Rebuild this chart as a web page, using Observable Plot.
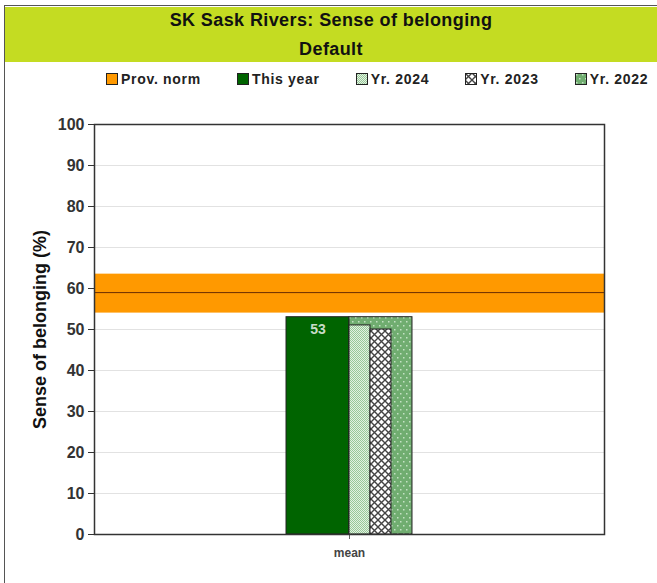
<!DOCTYPE html>
<html>
<head>
<meta charset="utf-8">
<script src="https://cdn.jsdelivr.net/npm/d3@7"></script>
<script src="https://cdn.jsdelivr.net/npm/@observablehq/plot@0.6"></script>
<style>
  body { margin: 0; background: #fff; font-family: "Liberation Sans", Arial, sans-serif; }
  #page { position: relative; width: 657px; height: 583px; overflow: hidden; }
  #box { position: absolute; left: 4px; top: 5px; width: 720px; height: 720px; border: 1.5px solid #555; box-sizing: border-box; }
  #header { position: absolute; left: 5px; top: 7px; width: 652px; height: 55px; background: #c4dc22; }
  .t { position: absolute; left: 0; width: 100%; text-align: center; font-weight: bold; font-size: 18px; letter-spacing: 0.4px; color: #111; line-height: 20px; }
  #legend { position: absolute; left: 106px; top: 70px; width: max-content; white-space: nowrap; display: flex; gap: 36px; font-weight: bold; font-size: 14px; letter-spacing: 0.7px; color: #222; line-height: 18px; }
  .item { display: flex; align-items: center; flex: none; }
  .item svg { margin-right: 3px; flex: none; }
  #chart { position: absolute; left: 0; top: 100px; }
  #defs { position: absolute; width: 0; height: 0; }
</style>
</head>
<body>
<svg id="defs" aria-hidden="true">
  <defs>
    <pattern id="p2024" width="2" height="2" patternUnits="userSpaceOnUse">
      <rect width="2" height="2" fill="#e2f1e2"></rect>
      <rect x="0" y="0" width="1" height="1" fill="#98c898"></rect>
      <rect x="1" y="1" width="1" height="1" fill="#98c898"></rect>
    </pattern>
    <pattern id="p2023" width="7" height="7" patternUnits="userSpaceOnUse">
      <rect width="7" height="7" fill="#fff"></rect>
      <path d="M0,0L7,7M7,0L0,7" stroke="#444" stroke-width="1.4"></path>
    </pattern>
    <pattern id="p2022" width="6" height="8" patternUnits="userSpaceOnUse">
      <rect width="6" height="8" fill="#70ad70"></rect>
      <rect x="1" y="1" width="1.5" height="1.5" fill="#c4e2c4"></rect>
      <rect x="4" y="5" width="1.5" height="1.5" fill="#c4e2c4"></rect>
    </pattern>
  </defs>
</svg>
<div id="page">
  <div id="box"></div>
  <div id="header">
    <div class="t" id="title" style="top:3px"></div>
    <div class="t" id="subtitle" style="top:32px"></div>
  </div>
  <div id="legend"></div>
  <div id="chart"></div>
</div>
<script>
// Chart text
const title = "SK Sask Rivers: Sense of belonging";
const subtitle = "Default";
const yLabel = "Sense of belonging (%)";
const category = "mean";

// Provincial norm: reference line and its range
const provNorm = 59;
const provLow = 54;
const provHigh = 63.5;

// Bars for the school, current and prior years
const series = ["This year", "Yr. 2024", "Yr. 2023", "Yr. 2022"];
const values = [53, 51, 50, 53];
const showLabel = [true, false, false, false];

const yTicks = [0, 10, 20, 30, 40, 50, 60, 70, 80, 90, 100];

// Fills
const normFill = "#ff9900";
const seriesFill = {
  "This year": "#006400",
  "Yr. 2024": "url(#p2024)",
  "Yr. 2023": "url(#p2023)",
  "Yr. 2022": "url(#p2022)"
};

// Slot layout within the category group: this year on the left,
// 2022 spanning the right half behind the narrower 2024 and 2023 bars.
const slots = {
  "This year": [-3, 0],
  "Yr. 2022": [0, 3],
  "Yr. 2024": [0, 1],
  "Yr. 2023": [1, 2]
};
const drawOrder = ["This year", "Yr. 2022", "Yr. 2024", "Yr. 2023"];
const groupFraction = 0.247; // share of the x axis used by the group
const half = 6 / groupFraction / 2;

const bars = series.map((s, i) => ({
  series: s, value: values[i], label: showLabel[i],
  x1: slots[s][0], x2: slots[s][1]
}));

document.getElementById("title").textContent = title;
document.getElementById("subtitle").textContent = subtitle;

// Legend
const legendItems = [["Prov. norm", normFill]].concat(series.map(s => [s, seriesFill[s]]));
const legend = document.getElementById("legend");
for (const [name, fill] of legendItems) {
  const item = document.createElement("div");
  item.className = "item";
  item.innerHTML = `<svg width="12" height="12"><rect x="0.5" y="0.5" width="11" height="11" fill="${fill}" stroke="#222" stroke-width="1"></rect></svg><span></span>`;
  item.querySelector("span").textContent = name;
  legend.appendChild(item);
}

const barMarks = drawOrder.map(s => {
  const b = bars.find(d => d.series === s);
  return Plot.rectY([b], {x1: "x1", x2: "x2", y: "value", fill: seriesFill[s], stroke: "#222", strokeWidth: 1});
});

const chart = Plot.plot({
  width: 657,
  height: 483,
  marginLeft: 94,
  marginRight: 53,
  marginTop: 24,
  marginBottom: 49,
  style: {fontFamily: "Liberation Sans, Arial, sans-serif", background: "transparent", overflow: "visible"},
  x: {domain: [-half, half]},
  y: {domain: [0, 100]},
  marks: [
    Plot.gridY(yTicks.filter(t => t > 0 && t < 100), {stroke: "#e2e2e2", strokeOpacity: 1}),
    Plot.rect([{low: provLow, high: provHigh}], {y1: "low", y2: "high", fill: normFill}),
    Plot.ruleY([provNorm], {stroke: "#6b2e00", strokeWidth: 1}),
    ...barMarks,
    Plot.text(bars.filter(d => d.label), {
      x: d => (d.x1 + d.x2) / 2, y: "value", text: d => String(d.value),
      dy: 12, fill: "#c8dcc8", fontSize: 14, fontWeight: "bold"
    }),
    Plot.axisY({ticks: yTicks, tickSize: 6, tickPadding: 4, fontSize: 16, fontWeight: "bold", fill: "#333", stroke: "#333", label: null}),
    Plot.axisX({ticks: [0], tickFormat: () => category, tickSize: 5, tickPadding: 9, fontSize: 12, fontWeight: "bold", fill: "#444", stroke: "#666", label: null}),
    Plot.text([yLabel], {frameAnchor: "left", textAnchor: "middle", text: d => d, rotate: -90, dx: -54, fontSize: 18, fontWeight: "bold", fill: "#111"}),
    Plot.frame({stroke: "#333", strokeWidth: 1.5})
  ]
});
document.getElementById("chart").appendChild(chart);
</script>
</body>
</html>
